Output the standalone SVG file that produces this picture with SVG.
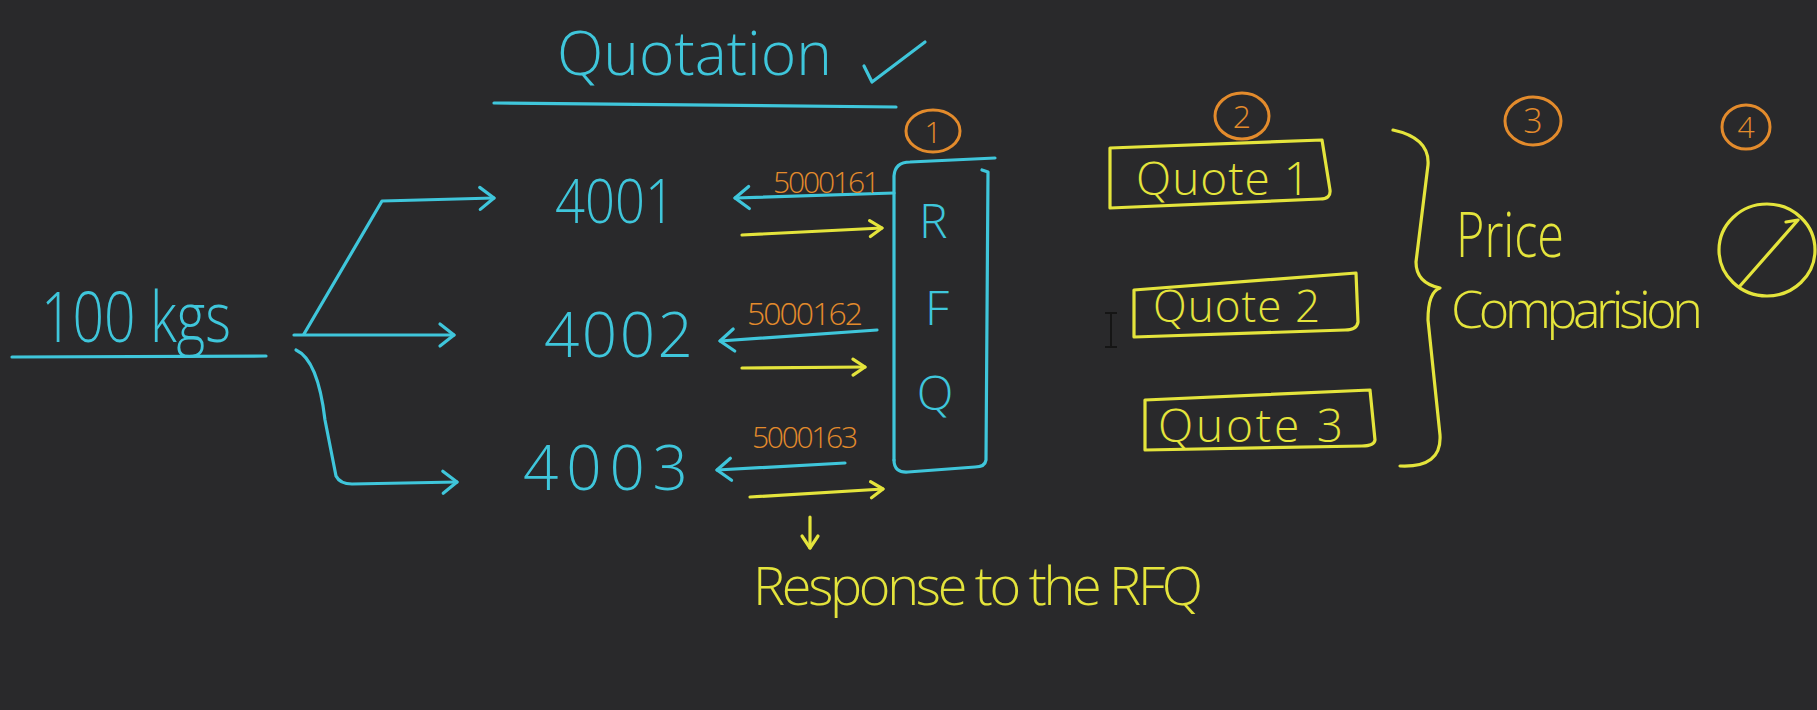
<svg xmlns="http://www.w3.org/2000/svg" width="1817" height="710" viewBox="0 0 1817 710">
<style>
.c{stroke:#3fc6db;fill:none;stroke-width:3.2;stroke-linecap:round;stroke-linejoin:round}
.y{stroke:#e4e43c;fill:none;stroke-width:3.2;stroke-linecap:round;stroke-linejoin:round}
.o{stroke:#e38b2c;fill:none;stroke-width:3;stroke-linecap:round}
text{font-family:"Open Sans","Liberation Sans",sans-serif;font-weight:300}
.tc{fill:#3fc6db}
.ty{fill:#e4e43c}
.to{fill:#e38b2c}
</style>
<defs>
<marker id="ac" markerUnits="userSpaceOnUse" markerWidth="30" markerHeight="30" refX="15" refY="15" orient="auto" overflow="visible">
<path d="M1,4 L15,15 L1,26" fill="none" stroke="#3fc6db" stroke-width="3.2" stroke-linecap="round" stroke-linejoin="round"/>
</marker>
<marker id="ay" markerUnits="userSpaceOnUse" markerWidth="30" markerHeight="30" refX="15" refY="15" orient="auto" overflow="visible">
<path d="M3,7 L15,15 L3,23" fill="none" stroke="#e4e43c" stroke-width="3.2" stroke-linecap="round" stroke-linejoin="round"/>
</marker>
</defs>
<rect width="1817" height="710" fill="#29292b"/>

<g id="title">
<text class="tc" x="557" y="75" font-size="60" textLength="275" lengthAdjust="spacingAndGlyphs">Quotation</text>
<path class="c" d="M864,66 L872,82 L925,42"/>
<path class="c" d="M494,103 L896,107"/>
</g>

<g id="qty">
<text class="tc" x="41" y="342" font-size="70" textLength="190" lengthAdjust="spacingAndGlyphs">100 kgs</text>
<path class="c" d="M12,357 L266,356"/>
</g>

<g id="v4001"><text class="tc" x="555" y="223" font-size="60" textLength="120" lengthAdjust="spacingAndGlyphs">4001</text></g>
<g id="v4002"><text class="tc" x="544" y="357" font-size="62" textLength="149" lengthAdjust="spacing">4002</text></g>
<g id="v4003"><text class="tc" x="523" y="490" font-size="62" textLength="165" lengthAdjust="spacing">4003</text></g>

<g id="rfq">
<path class="c" d="M894,460 L894,176 Q895,162 910,162 L995,158"/>
<path class="c" d="M982,170 L988,172 L986,460 Q985,467 975,467 L908,472 Q894,473 894,460"/>
<text class="tc" x="919" y="238" font-size="48">R</text>
<text class="tc" x="925" y="325" font-size="48">F</text>
<text class="tc" x="935" y="410" font-size="48" text-anchor="middle">Q</text>
</g>

<g id="step1"><ellipse class="o" cx="933" cy="131" rx="27" ry="21"/><text class="to" x="933" y="143" font-size="30" text-anchor="middle">1</text></g>
<g id="step2"><ellipse class="o" cx="1242" cy="116" rx="27" ry="23"/><text class="to" x="1242" y="128" font-size="32" text-anchor="middle">2</text></g>
<g id="step3"><ellipse class="o" cx="1533" cy="121" rx="28" ry="24"/><text class="to" x="1533" y="133" font-size="34" text-anchor="middle">3</text></g>
<g id="step4"><ellipse class="o" cx="1746" cy="127" rx="24" ry="22"/><text class="to" x="1746" y="138" font-size="30" text-anchor="middle">4</text></g>

<g id="quote1">
<path class="y" d="M1110,148 L1322,140 L1330,190 Q1331,199 1320,199 L1110,208 Z"/>
<text class="ty" x="1136" y="195" font-size="46" textLength="174" lengthAdjust="spacing">Quote 1</text>
</g>
<g id="quote2">
<path class="y" d="M1134,290 L1356,273 L1358,322 Q1357,330 1345,330 L1134,337 Z"/>
<text class="ty" x="1153" y="322" font-size="44" textLength="167" lengthAdjust="spacing">Quote 2</text>
</g>
<g id="quote3">
<path class="y" d="M1145,400 L1370,390 L1375,440 Q1374,446 1362,446 L1145,450 Z"/>
<text class="ty" x="1158" y="442" font-size="46" textLength="185" lengthAdjust="spacing">Quote 3</text>
</g>

<g id="comparison">
<path class="y" d="M1393,130 Q1430,138 1428,165 L1416,262 Q1416,283 1440,288 Q1428,292 1428,320 L1440,435 Q1442,468 1400,466"/>
<text class="ty" x="1456" y="257" font-size="62" textLength="108" lengthAdjust="spacingAndGlyphs">Price</text>
<text class="ty" x="1451" y="328" font-size="52" textLength="252" lengthAdjust="spacing">Comparision</text>
</g>

<g id="approved">
<ellipse class="y" cx="1767" cy="250" rx="48" ry="46"/>
<path class="y" d="M1740,286 L1798,220 L1786,222"/>
</g>

<g id="response">
<text class="ty" x="753" y="605" font-size="54" textLength="450" lengthAdjust="spacing">Response to the RFQ</text>
</g>

<g id="cursor">
<path d="M1105,313 L1117,313 M1111,313 L1111,347 M1105,347 L1117,347" stroke="#151515" stroke-width="2" fill="none"/>
</g>

<g id="connectors">
<path class="c" d="M304,334 L382,201 L494,198" marker-end="url(#ac)"/>
<path class="c" d="M294,335 L454,335" marker-end="url(#ac)"/>
<path class="c" d="M296,350 Q318,360 325,420 L336,476 Q340,484 352,484 L457,482" marker-end="url(#ac)"/>
<path class="c" d="M894,193 L735,198" marker-end="url(#ac)"/>
<path class="y" d="M742,235 L882,228" marker-end="url(#ay)"/>
<path class="c" d="M877,330 L720,341" marker-end="url(#ac)"/>
<path class="y" d="M742,368 L865,367" marker-end="url(#ay)"/>
<path class="c" d="M845,463 L717,470" marker-end="url(#ac)"/>
<path class="y" d="M750,497 L883,489" marker-end="url(#ay)"/>
<path class="y" d="M810,517 L810,548" marker-end="url(#ay)"/>
<text class="to" x="773" y="193" font-size="30" textLength="107" lengthAdjust="spacing">5000161</text>
<text class="to" x="747" y="325" font-size="32" textLength="116" lengthAdjust="spacing">5000162</text>
<text class="to" x="752" y="448" font-size="30" textLength="106" lengthAdjust="spacing">5000163</text>
</g>
</svg>
